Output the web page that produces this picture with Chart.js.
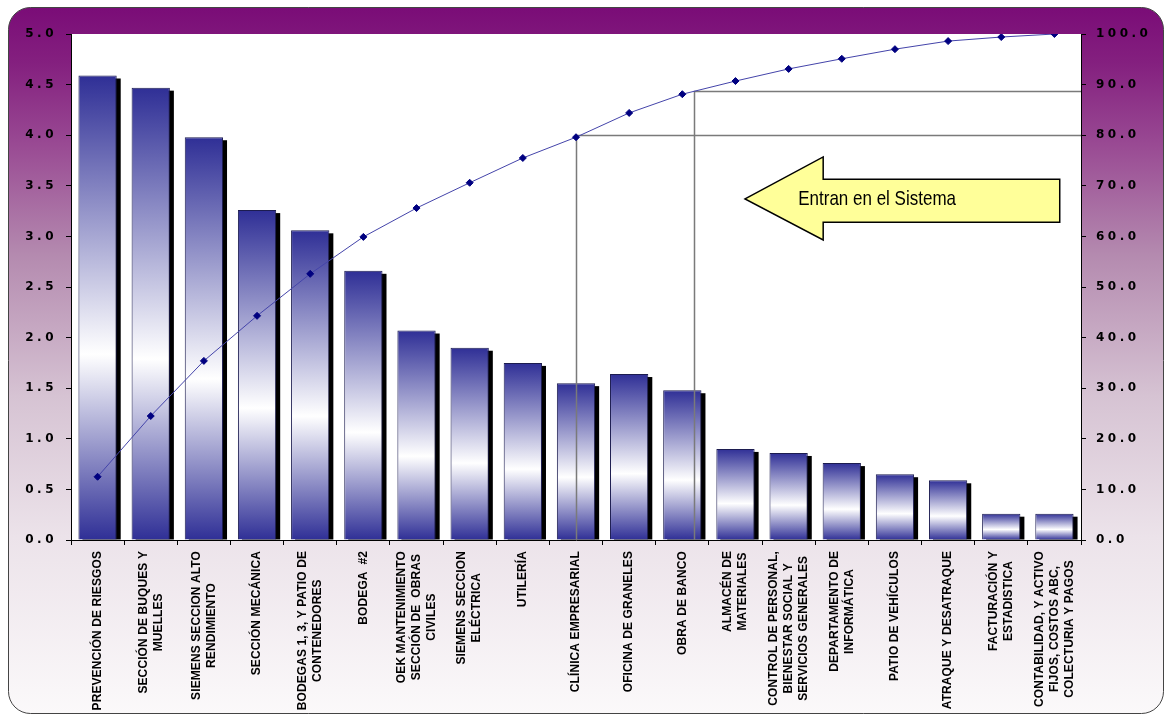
<!DOCTYPE html>
<html>
<head>
<meta charset="utf-8">
<script src="https://cdn.jsdelivr.net/npm/chart.js@4"></script>
<style>
  html, body { margin: 0; padding: 0; background: #fff; }
  #wrap { width: 1165px; height: 727px; }
</style>
</head>
<body>
<div id="wrap"><canvas id="myChart" width="1165" height="727"></canvas></div>
<script>
// categories (one array of lines per label)
const areas = [
  ["PREVENCIÓN DE RIESGOS"],
  ["SECCIÓN DE BUQUES Y", "MUELLES"],
  ["SIEMENS SECCION ALTO", "RENDIMIENTO"],
  ["SECCIÓN MECÁNICA"],
  ["BODEGAS 1, 3, Y PATIO DE", "CONTENEDORES"],
  ["BODEGA  #2"],
  ["OEK MANTENIMIENTO", "SECCIÓN DE  OBRAS", "CIVILES"],
  ["SIEMENS SECCION", "ELÉCTRICA"],
  ["UTILERÍA"],
  ["CLÍNICA EMPRESARIAL"],
  ["OFICINA DE GRANELES"],
  ["OBRA DE BANCO"],
  ["ALMACÉN DE", "MATERIALES"],
  ["CONTROL DE PERSONAL,", "BIENESTAR SOCIAL Y", "SERVICIOS GENERALES"],
  ["DEPARTAMENTO DE", "INFORMÁTICA"],
  ["PATIO DE VEHÍCULOS"],
  ["ATRAQUE Y DESATRAQUE"],
  ["FACTURACIÓN Y", "ESTADISTICA"],
  ["CONTABILIDAD, Y ACTIVO", "FIJOS, COSTOS ABC,", "COLECTURIA Y PAGOS"]
];

// bar values (left axis)
const puntajes = [4.59, 4.47, 3.98, 3.26, 3.06, 2.66, 2.07, 1.90, 1.75, 1.55,
                  1.64, 1.48, 0.90, 0.86, 0.76, 0.65, 0.59, 0.26, 0.26];

// cumulative percentage (right axis)
const acumulado = [12.5, 24.5, 35.4, 44.3, 52.6, 59.9, 65.6, 70.6, 75.5, 79.6,
                   84.4, 88.1, 90.7, 93.1, 95.1, 97.0, 98.6, 99.4, 100.0];

// cut-off guide lines: category index and percentage
const cortes = [
  { cat: 9, pct: 80 },
  { cat: 11.22, pct: 88.7 }
];

const arrowText = "Entran en el Sistema";

const bgPlugin = {
  id: 'bg',
  beforeDraw(chart) {
    const ctx = chart.ctx;
    const W = chart.width, H = chart.height;
    ctx.save();
    ctx.fillStyle = '#fff';
    ctx.fillRect(0, 0, W, H);
    const g = ctx.createLinearGradient(0, 7, 0, 714);
    g.addColorStop(0, '#7a0c77');
    g.addColorStop(0.08, '#84207f');
    g.addColorStop(0.2, '#9a4c94');
    g.addColorStop(0.35, '#b48aaf');
    g.addColorStop(0.55, '#d6c3d3');
    g.addColorStop(0.75, '#ece3ea');
    g.addColorStop(1, '#fbf9fa');
    ctx.beginPath();
    ctx.roundRect(8.5, 7.5, 1155, 706, 22);
    ctx.fillStyle = g;
    ctx.fill();
    ctx.strokeStyle = '#444';
    ctx.lineWidth = 1;
    ctx.stroke();
    const a = chart.chartArea;
    ctx.fillStyle = '#fff';
    ctx.fillRect(a.left, a.top, a.right - a.left, a.bottom - a.top);
    ctx.restore();
    // spaced-out axis numbers
    ctx.letterSpacing = '3.5px';
  },
  beforeDatasetsDraw(chart) {
    chart.ctx.letterSpacing = '0px';
  }
};

const shadowPlugin = {
  id: 'shadows',
  beforeDatasetDraw(chart, args) {
    const ctx = chart.ctx;
    if (args.index === 1) {
      // bar shadows
      const meta = chart.getDatasetMeta(1);
      ctx.save();
      ctx.fillStyle = '#000';
      meta.data.forEach(el => {
        const w = el.width;
        ctx.fillRect(el.x - w / 2 + 4, el.y + 3, w, el.base - el.y - 3);
      });
      ctx.restore();
    }
    if (args.index === 0) {
      // guide lines, drawn over the bars
      const x = chart.scales.x, y1 = chart.scales.y1;
      const a = chart.chartArea;
      ctx.save();
      ctx.strokeStyle = '#7a7a7a';
      ctx.lineWidth = 1.5;
      cortes.forEach(c => {
        const px = Math.round(x.getPixelForValue(c.cat)) + 0.5;
        const py = Math.round(y1.getPixelForValue(c.pct)) + 0.5;
        ctx.beginPath();
        ctx.moveTo(px, a.bottom);
        ctx.lineTo(px, py);
        ctx.lineTo(a.right, py);
        ctx.stroke();
      });
      ctx.restore();
    }
  },
  afterDraw(chart) {
    const ctx = chart.ctx;
    const x = chart.scales.x, y1 = chart.scales.y1;
    const a = chart.chartArea;
    // category labels, rotated, reading upward
    ctx.save();
    ctx.letterSpacing = '0.1px';
    ctx.font = "bold 12px 'Liberation Sans', Arial, sans-serif";
    ctx.fillStyle = '#000';
    ctx.textAlign = 'center';
    ctx.textBaseline = 'middle';
    const lh = 15;
    areas.forEach((lines, i) => {
      const maxW = Math.max(...lines.map(l => ctx.measureText(l).width));
      const cx = x.getPixelForValue(i);
      const cy = a.bottom + 11 + maxW / 2;
      ctx.save();
      ctx.translate(cx, cy);
      ctx.rotate(-Math.PI / 2);
      lines.forEach((l, j) => {
        ctx.fillText(l, 0, (j - (lines.length - 1) / 2) * lh);
      });
      ctx.restore();
    });
    ctx.restore();

    // yellow callout arrow
    const tipX = x.getPixelForValue(12.18), tipY = y1.getPixelForValue(67.4);
    const neckX = x.getPixelForValue(13.65), endX = x.getPixelForValue(18.1);
    const headTop = y1.getPixelForValue(75.7), headBot = y1.getPixelForValue(59.3);
    const bodyTop = y1.getPixelForValue(71.3), bodyBot = y1.getPixelForValue(62.8);
    ctx.save();
    ctx.letterSpacing = '0px';
    ctx.beginPath();
    ctx.moveTo(tipX, tipY);
    ctx.lineTo(neckX, headTop);
    ctx.lineTo(neckX, bodyTop);
    ctx.lineTo(endX, bodyTop);
    ctx.lineTo(endX, bodyBot);
    ctx.lineTo(neckX, bodyBot);
    ctx.lineTo(neckX, headBot);
    ctx.closePath();
    ctx.fillStyle = '#ffff99';
    ctx.fill();
    ctx.strokeStyle = '#000';
    ctx.lineWidth = 1.5;
    ctx.stroke();
    ctx.translate(x.getPixelForValue(13.18), tipY);
    ctx.scale(1, 1.2);
    ctx.fillStyle = '#000';
    ctx.font = "17px 'Liberation Sans', Arial, sans-serif";
    ctx.textAlign = 'left';
    ctx.textBaseline = 'middle';
    ctx.fillText(arrowText, 0, 0);
    ctx.restore();
  }
};

function barGradient(context) {
  const chart = context.chart;
  if (!chart.chartArea) return '#30309a';
  const y = chart.scales.y;
  const top = y.getPixelForValue(context.raw);
  const base = y.getPixelForValue(0);
  const g = chart.ctx.createLinearGradient(0, top, 0, base);
  g.addColorStop(0, '#2f2f96');
  g.addColorStop(0.6, '#ffffff');
  g.addColorStop(1, '#2f2f96');
  return g;
}

const tickFont = { family: "'DejaVu Sans', sans-serif", size: 12, weight: 'bold' };

const config = {
  data: {
    labels: areas.map(l => l.join(' ')),
    datasets: [
      {
        type: 'line',
        label: '% acumulado',
        data: acumulado,
        yAxisID: 'y1',
        borderColor: '#4444aa',
        borderWidth: 1,
        pointStyle: 'rectRot',
        pointRadius: 3.5,
        pointBackgroundColor: '#000080',
        pointBorderColor: '#000080',
        tension: 0,
        order: 0
      },
      {
        type: 'bar',
        label: 'Puntaje',
        data: puntajes,
        yAxisID: 'y',
        backgroundColor: barGradient,
        borderColor: '#1c1c50',
        borderWidth: 1,
        barPercentage: 0.72,
        categoryPercentage: 1,
        order: 1
      }
    ]
  },
  options: {
    responsive: false,
    animation: false,
    devicePixelRatio: 1,
    layout: { padding: { top: 34, left: 0, right: 0, bottom: 0 } },
    plugins: {
      legend: { display: false },
      tooltip: { enabled: false }
    },
    scales: {
      x: {
        offset: true,
        ticks: { display: false },
        grid: { drawOnChartArea: false, color: '#000', tickLength: 5, offset: true },
        border: { color: '#000', width: 1 },
        afterFit(scale) { scale.height = 187; }
      },
      y: {
        position: 'left',
        min: 0, max: 5,
        ticks: { stepSize: 0.5, color: '#000', font: tickFont, padding: 9, callback: v => v.toFixed(1) },
        grid: { drawOnChartArea: false, color: '#000', tickLength: 5 },
        border: { color: '#000', width: 1 },
        afterFit(scale) { scale.width = 71; }
      },
      y1: {
        position: 'right',
        min: 0, max: 100,
        ticks: { stepSize: 10, color: '#000', font: tickFont, padding: 10, callback: v => v.toFixed(1) },
        grid: { drawOnChartArea: false, color: '#000', tickLength: 5 },
        border: { color: '#000', width: 1 },
        afterFit(scale) { scale.width = 84; }
      }
    }
  },
  plugins: [bgPlugin, shadowPlugin]
};

const myChart = new Chart(document.getElementById('myChart'), config);
</script>
</body>
</html>
